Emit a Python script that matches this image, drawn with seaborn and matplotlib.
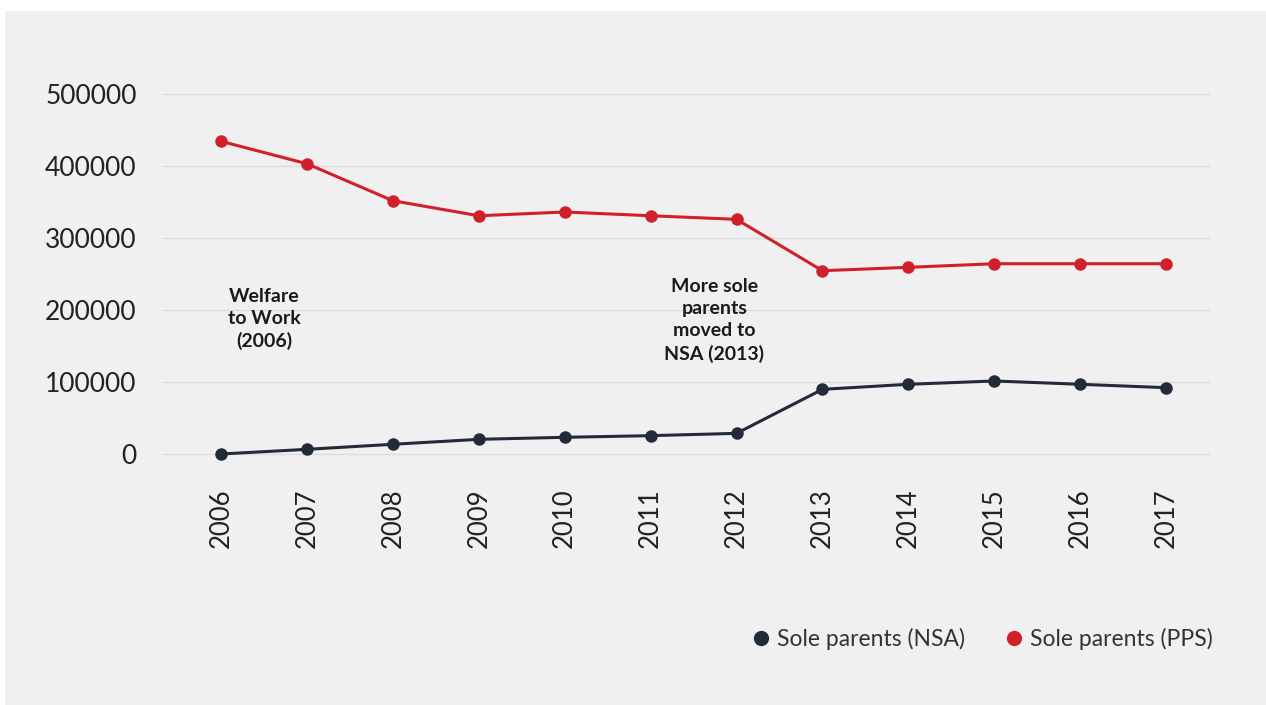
import numpy as np
import pandas as pd
import seaborn as sns
import matplotlib.pyplot as plt
from matplotlib.patches import Rectangle
from matplotlib.lines import Line2D

years = [2006, 2007, 2008, 2009, 2010, 2011, 2012, 2013, 2014, 2015, 2016, 2017]
nsa = [0, 6500, 13500, 20400, 23200, 25500, 28700, 89900, 96900, 101500, 96900, 92200]
pps = [434700, 403500, 352100, 331200, 336400, 331200, 326200, 254800, 259500, 264500, 264500, 264500]
series_names = ["Sole parents (NSA)", "Sole parents (PPS)"]
y_ticks = [0, 100000, 200000, 300000, 400000, 500000]

df = pd.DataFrame({
    "year": years * 2,
    "value": nsa + pps,
    "series": [series_names[0]] * len(years) + [series_names[1]] * len(years),
})

sns.set_theme(style="white")
plt.rcParams["font.family"] = ["Lato", "DejaVu Sans"]

bg = "#f0f0f0"
palette = {series_names[0]: "#232b3a", series_names[1]: "#d0202a"}

fig = plt.figure(figsize=(12.66, 7.05), dpi=100, facecolor="white")
fig.patches.append(Rectangle((5 / 1266, 0), 1 - 5 / 1266, 694 / 705,
                             transform=fig.transFigure, facecolor=bg,
                             edgecolor="none", zorder=-10))
ax = fig.add_axes([163 / 1266, 1 - 470 / 705, (1210 - 163) / 1266, 390 / 705])
ax.set_facecolor(bg)

sns.lineplot(data=df, x="year", y="value", hue="series", palette=palette,
             marker="o", markersize=9, markeredgewidth=0, linewidth=2.2,
             legend=False, ax=ax, clip_on=False)

ax.set_xlim(2005.325, 2017.51)
ax.set_ylim(-22240, 519900)
ax.set_yticks(y_ticks)
ax.set_yticklabels([str(v) for v in y_ticks])
ax.set_xticks(years)
ax.set_xticklabels([str(y) for y in years], rotation=90)
ax.tick_params(axis="y", length=0, pad=19, labelsize=19, labelcolor="#222222")
ax.tick_params(axis="x", length=0, pad=13, labelsize=18.5, labelcolor="#222222")
ax.set_xlabel("")
ax.set_ylabel("")
for s in ax.spines.values():
    s.set_visible(False)
ax.yaxis.grid(True, color="#dcdcdc", linewidth=1)
ax.set_axisbelow(True)

# annotations
ax.text(2006.5, 187700, "Welfare\nto Work\n(2006)", ha="center", va="center",
        fontsize=14, fontweight="bold", color="#1a1a1a", linespacing=1.35)
ax.text(2011.74, 185600, "More sole\nparents\nmoved to\nNSA (2013)", ha="center",
        va="center", fontsize=14, fontweight="bold", color="#1a1a1a",
        linespacing=1.35)

handles = [Line2D([], [], linestyle="none", marker="o", markersize=11,
                  markeredgewidth=0, color=palette[n]) for n in series_names]
leg = fig.legend(handles, series_names, loc="center right",
                 bbox_to_anchor=(1233 / 1266, 1 - 639 / 705), ncol=2,
                 frameon=False, fontsize=16.5, handletextpad=0.2,
                 columnspacing=1.6, handlelength=1.0)
for t in leg.get_texts():
    t.set_color("#333333")

fig.savefig("out.png", dpi=100, facecolor="white")
